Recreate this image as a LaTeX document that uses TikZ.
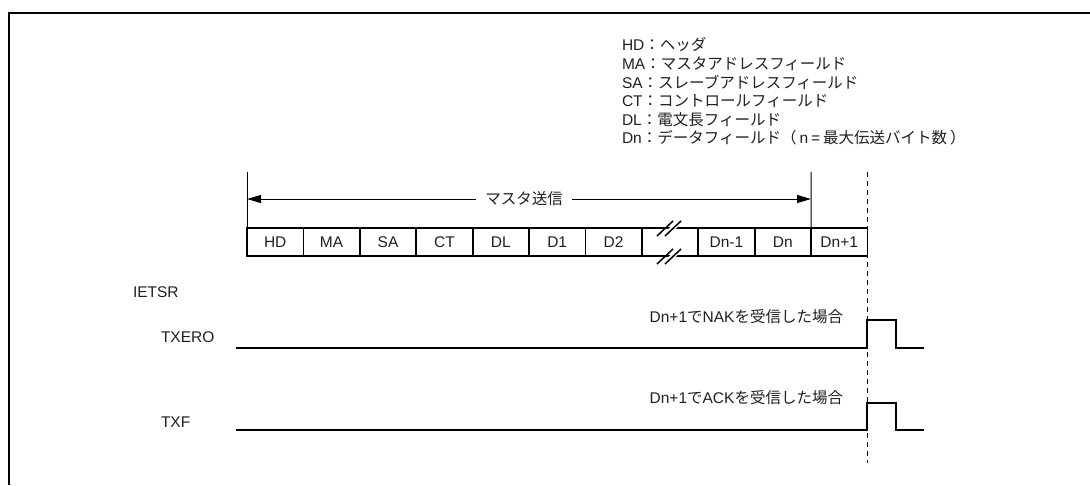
\documentclass[tikz,border=0pt]{standalone}
\usepackage{fontspec}
\setmainfont{Liberation Sans}
\newfontfamily\jp{Noto Sans CJK JP}
\usetikzlibrary{arrows.meta}
\newcommand\J[1]{{\jp #1}}
\begin{document}
\begin{tikzpicture}[x=1pt,y=-1pt,
  every node/.style={inner sep=0pt,outer sep=0pt,font=\fontsize{15.5}{18}\selectfont,text=black!88},
  cell/.style={draw,line width=1.8pt,minimum width=56.4pt,minimum height=28pt,anchor=center},
  legend/.style={anchor=west},
  sig/.style={line width=2pt},
  thin/.style={line width=1pt},
  tip/.style={-{Triangle[length=14pt,width=8pt]}}]
\useasboundingbox (0,0) rectangle (1090,485);
% frame (only top and left visible)
\draw[line width=2.6pt] (9,485) -- (9,13) -- (1090,13);
% legend
\node[legend] (l1) at (622,45)   {HD\J{：ヘッダ}};
\node[legend] (l2) at (622,63.6) {MA\J{：マスタアドレスフィールド}};
\node[legend] (l3) at (622,82.2) {SA\J{：スレーブアドレスフィールド}};
\node[legend] (l4) at (622,100.8){CT\J{：コントロールフィールド}};
\node[legend] (l5) at (622,119.4){DL\J{：電文長フィールド}};
\node[legend] (l6) at (622,138)  {Dn\J{：データフィールド（}\hspace{3pt}n\hspace{3pt}=\hspace{3pt}\J{最大伝送バイト数}\hspace{3pt}\J{）}};
% cells
\foreach \i/\t in {1/HD,2/MA,3/SA,4/CT,5/DL,6/D1,7/D2,8/{},9/Dn-1,10/Dn,11/Dn+1}{
  \node[cell] (c\i) at ({247+56.4*(\i-0.5)},242) {\t};
}
% break marks on cell 8
\fill[white] (661,236) -- (677,221) -- (684,221) -- (668,236) -- cycle;
\fill[white] (661,264) -- (677,249) -- (684,249) -- (668,264) -- cycle;
\draw[line width=1.5pt] (657,236) -- (673,221) (665,236) -- (681,221);
\draw[line width=1.5pt] (657,264) -- (673,249) (665,264) -- (681,249);
% dimension arrow
\coordinate (L) at (247,172);
\coordinate (R) at (811,172);
\coordinate (D) at (867,172);
\coordinate (Dend) at (867,463);
\draw[thin] (c1.north west) -- (L);
\draw[thin] (c10.north east) -- (R);
\node (ms) at (524,199) {\J{マスタ送信}};
\draw[thin,tip] ([xshift=-9pt]ms.west) -- (c1.north west |- ms.west);
\draw[thin,tip] ([xshift=9pt]ms.east) -- (R |- ms.east);
\draw[thin,dash pattern=on 5pt off 4pt] (D) -- (Dend);
% signals
\node[anchor=west] (ietsr) at (133,292) {IETSR};
\node[anchor=west] (txero) at (161,337) {TXERO};
\node[anchor=west] (txf) at (161,422) {TXF};
\coordinate (a0) at (236,348);
\coordinate (a1) at (867,348);
\coordinate (a2) at (867,320);
\coordinate (a3) at (896,320);
\coordinate (a4) at (896,348);
\coordinate (a5) at (924,348);
\draw[sig] (a0) -- (a1) -- (a2) -- (a3) -- (a4) -- (a5);
\coordinate (b0) at (236,430);
\coordinate (b1) at (867,430);
\coordinate (b2) at (867,403);
\coordinate (b3) at (896,403);
\coordinate (b4) at (896,430);
\coordinate (b5) at (924,430);
\draw[sig] (b0) -- (b1) -- (b2) -- (b3) -- (b4) -- (b5);
\node[anchor=east] (nak) at (843,317) {Dn+1\J{で}NAK\J{を受信した場合}};
\node[anchor=east] (ack) at (843,398) {Dn+1\J{で}ACK\J{を受信した場合}};
\end{tikzpicture}
\end{document}
